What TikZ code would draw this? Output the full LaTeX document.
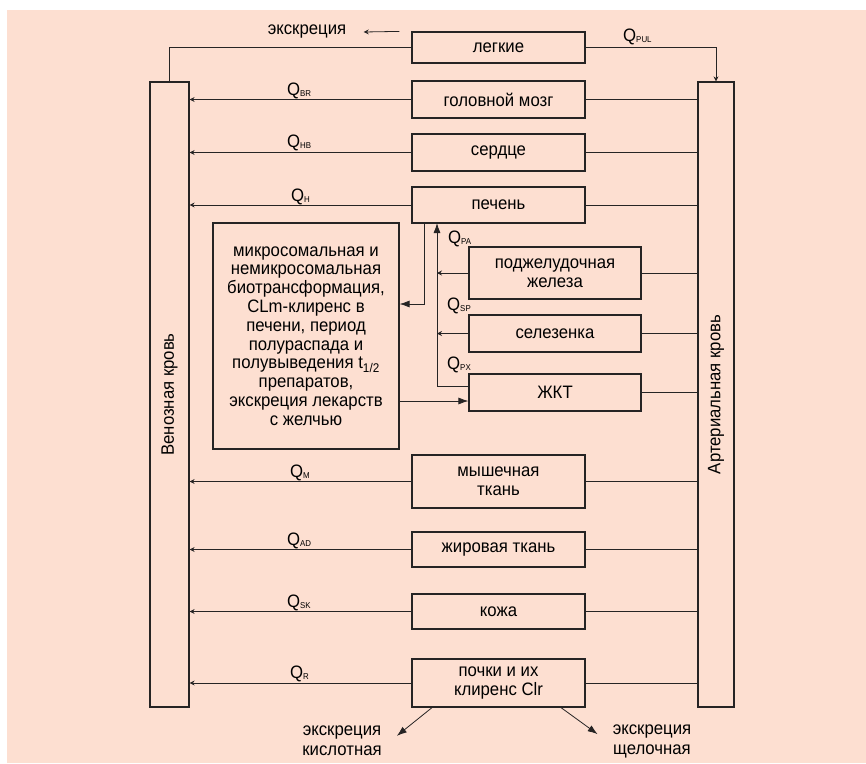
\documentclass[tikz,border=0pt]{standalone}
\usepackage{fontspec}
\setmainfont{Liberation Sans}[FakeStretch=0.93]
\usetikzlibrary{arrows.meta}
\definecolor{bgpink}{RGB}{253,223,209}
\definecolor{ink}{RGB}{38,36,36}
\newcommand{\qflow}[1]{Q\raisebox{-1.5pt}{\fontsize{8.5}{8.5}\selectfont #1}}

\begin{document}
\begin{tikzpicture}[x=1pt,y=-1pt,
	font=\fontsize{18}{18.8}\selectfont,
	organ/.style={draw=ink, line width=1.2pt, minimum width=173, align=center, inner sep=0pt},
	flow/.style={draw=ink, line width=0.8pt},
	toven/.style={flow, -{Stealth[length=5pt,width=5pt]}},
	bigarrow/.style={flow, -{Latex[length=10pt,width=7pt]}},
	qlab/.style={anchor=base west, inner sep=0pt}]
	\useasboundingbox (0,0) rectangle (866,763);
	\fill[bgpink] (7,10) rectangle (866,763);

	\node[organ, minimum width=39, minimum height=625] (venous) at (169.5,394.5) {};
	\node[rotate=90] at (venous) {Венозная кровь};
	\node[organ, minimum width=36, minimum height=625] (arterial) at (716,394.5) {};
	\node[rotate=90] at (arterial) {Артериальная кровь};

	\node[organ, minimum height=31] (lungs) at (498.5,47.5) {легкие};
	\node[organ, minimum height=37] (brain) at (498.5,99.5) {головной мозг};
	\node[organ, minimum height=37] (heart) at (498.5,152.5) {сердце};
	\node[organ, minimum height=36] (liver) at (498.5,205) {печень};
	\node[organ, minimum width=172, minimum height=52] (pancreas) at (555,273) {поджелудочная\\железа};
	\node[organ, minimum width=172, minimum height=37] (spleen) at (555,333.5) {селезенка};
	\node[organ, minimum width=172, minimum height=37] (gi) at (555,392.5) {ЖКТ};
	\node[organ, minimum height=53] (muscle) at (498.5,481.5) {мышечная\\ткань};
	\node[organ, minimum height=35] (fat) at (498.5,549.5) {жировая ткань};
	\node[organ, minimum height=35] (skin) at (498.5,611.5) {кожа};
	\node[organ, minimum height=48] (kidney) at (498.5,683) {почки и их\\клиренс Clr};

	\node[organ, minimum width=186, minimum height=226] (metab) at (306,336) {микросомальная и\\немикросомальная\\биотрансформация,\\CLm-клиренс в\\печени, период\\полураспада и\\полувыведения t\textsubscript{1/2}\\препаратов,\\экскреция лекарств\\с желчью};

	\node (excr) at (307,32) {экскреция};
	\node[align=center, inner sep=0pt, font=\fontsize{18}{20}\selectfont] (acid) at (342,741) {экскреция\\кислотная};
	\node[align=center, inner sep=0pt, font=\fontsize{18}{20}\selectfont] (alk) at (652,741) {экскреция\\щелочная};

	\node[qlab] at (623,41) {\qflow{PUL}};
	\node[qlab] at (287,95) {\qflow{BR}};
	\node[qlab] at (287,147) {\qflow{HB}};
	\node[qlab] at (291,201) {\qflow{H}};
	\node[qlab] at (448,243) {\qflow{PA}};
	\node[qlab] at (447,310) {\qflow{SP}};
	\node[qlab] at (447,369) {\qflow{PX}};
	\node[qlab] at (290,477) {\qflow{M}};
	\node[qlab] at (287,545) {\qflow{AD}};
	\node[qlab] at (287,607) {\qflow{SK}};
	\node[qlab] at (290,678) {\qflow{R}};

	\draw[flow] (venous.north) |- (lungs.west);
	\draw[toven] (lungs.east) -| (arterial.north);
	\draw[toven] ([xshift=-12pt]lungs.north west) -- ([xshift=14pt]excr.east);

	\draw[flow] (arterial.west |- brain.east) -- (brain.east);
	\draw[toven] (brain.west) -- (venous.east |- brain.west);
	\draw[flow] (arterial.west |- heart.east) -- (heart.east);
	\draw[toven] (heart.west) -- (venous.east |- heart.west);
	\draw[flow] (arterial.west |- liver.east) -- (liver.east);
	\draw[toven] (liver.west) -- (venous.east |- liver.west);
	\draw[flow] (arterial.west |- muscle.east) -- (muscle.east);
	\draw[toven] (muscle.west) -- (venous.east |- muscle.west);
	\draw[flow] (arterial.west |- fat.east) -- (fat.east);
	\draw[toven] (fat.west) -- (venous.east |- fat.west);
	\draw[flow] (arterial.west |- skin.east) -- (skin.east);
	\draw[toven] (skin.west) -- (venous.east |- skin.west);
	\draw[flow] (arterial.west |- kidney.east) -- (kidney.east);
	\draw[toven] (kidney.west) -- (venous.east |- kidney.west);

	\draw[flow] (arterial.west |- pancreas.east) -- (pancreas.east);
	\draw[flow] (arterial.west |- spleen.east) -- (spleen.east);
	\draw[flow] (arterial.west |- gi.east) -- (gi.east);

	\coordinate (portal) at (437,223);
	\coordinate (bile) at (424,223);
	\coordinate (gin) at ([yshift=-8.5pt]gi.west);
	\draw[bigarrow] ([yshift=6.5pt]gi.west) -| (portal);
	\draw[toven] (pancreas.west) -- (pancreas.west -| portal);
	\draw[toven] (spleen.west) -- (spleen.west -| portal);
	\draw[bigarrow] (bile) |- ([yshift=32pt]metab.east);
	\draw[bigarrow] (gin -| metab.east) -- (gin);

	\draw[bigarrow] ([xshift=-66.5pt]kidney.south) -- ([xshift=15pt,yshift=-10pt]acid.north east);
	\draw[bigarrow] ([xshift=62.5pt]kidney.south) -- ([xshift=-15pt,yshift=-10pt]alk.north west);
\end{tikzpicture}
\end{document}
